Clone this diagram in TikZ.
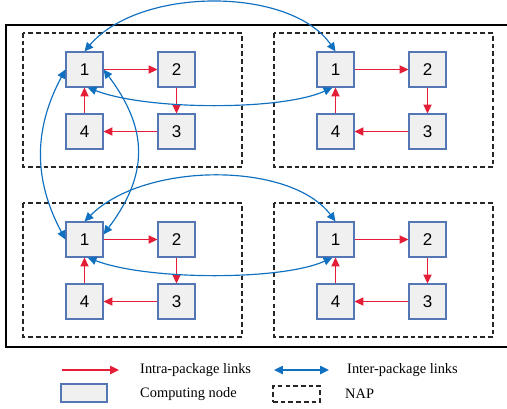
\documentclass[tikz,border=0pt]{standalone}
\usepackage{fontspec}
\setmainfont{Liberation Serif}
\newfontfamily\arialfont{Liberation Sans}
\usepackage{xcolor}
\usetikzlibrary{arrows.meta}

\definecolor{linkred}{RGB}{228,30,55}
\definecolor{linkblue}{RGB}{16,112,192}
\definecolor{nodeedge}{RGB}{84,118,180}
\definecolor{nodefill}{RGB}{240,240,240}

\begin{document}
\begin{tikzpicture}[x=0.03cm, y=0.03cm, node distance=2.76cm,
  comp/.style={rectangle, draw=nodeedge, line width=1pt, fill=nodefill, minimum width=1.11cm, minimum height=1.05cm, font=\arialfont\fontsize{14.5}{16}\selectfont},
  napbox/.style={draw=black!85, line width=1.1pt, dash pattern=on 4pt off 2.6pt},
  intra/.style={draw=linkred, line width=1pt, -{Triangle[length=7.5pt,width=7pt]}},
  inter/.style={draw=linkblue, line width=1pt, {Triangle[length=7.5pt,width=7pt]}-{Triangle[length=7.5pt,width=7pt]}},
  legend/.style={anchor=west, inner sep=0pt, font=\fontsize{12.3}{14}\selectfont}]
\useasboundingbox (0,0) rectangle (507,-408);
\draw[line width=2.5pt] (6,-25) rectangle (515,-347);
% NAP boxes
\draw[napbox] (23,-33) rectangle (242,-167);
\draw[napbox] (274,-33) rectangle (493,-167);
\draw[napbox] (23,-203) rectangle (242,-337);
\draw[napbox] (274,-203) rectangle (493,-337);
% top left
\node (TL1) [comp] at (84.5,-69.5) {1};
\node (TL2) [comp, right of=TL1] {2};
\node (TL3) [comp, below of=TL2, yshift=0.9cm] {3};
\node (TL4) [comp, left of=TL3] {4};
% top right
\node (TR1) [comp] at (335.5,-69.5) {1};
\node (TR2) [comp, right of=TR1] {2};
\node (TR3) [comp, below of=TR2, yshift=0.9cm] {3};
\node (TR4) [comp, left of=TR3] {4};
% bottom left
\node (BL1) [comp] at (84.5,-239.5) {1};
\node (BL2) [comp, right of=BL1] {2};
\node (BL3) [comp, below of=BL2, yshift=0.9cm] {3};
\node (BL4) [comp, left of=BL3] {4};
% bottom right
\node (BR1) [comp] at (335.5,-239.5) {1};
\node (BR2) [comp, right of=BR1] {2};
\node (BR3) [comp, below of=BR2, yshift=0.9cm] {3};
\node (BR4) [comp, left of=BR3] {4};
% intra-package links
\draw[intra] (TL1) -- (TL2);
\draw[intra] (TL2) -- (TL3);
\draw[intra] (TL3) -- (TL4);
\draw[intra] (TL4) -- (TL1);
\draw[intra] (TR1) -- (TR2);
\draw[intra] (TR2) -- (TR3);
\draw[intra] (TR3) -- (TR4);
\draw[intra] (TR4) -- (TR1);
\draw[intra] (BL1) -- (BL2);
\draw[intra] (BL2) -- (BL3);
\draw[intra] (BL3) -- (BL4);
\draw[intra] (BL4) -- (BL1);
\draw[intra] (BR1) -- (BR2);
\draw[intra] (BR2) -- (BR3);
\draw[intra] (BR3) -- (BR4);
\draw[intra] (BR4) -- (BR1);
% inter-package links
\draw[inter] (TL1.north) .. controls +(55,65) and +(-45,65) .. (TR1.north);
\draw[inter] (TL1.-80) .. controls +(60,-23) and +(-50,-23) .. (TR1.-100);
\draw[inter] (TL1.west) .. controls +(-32,-60) and +(-32,60) .. (BL1.west);
\draw[inter] (TL1.east) .. controls +(45,-60) and +(45,60) .. (BL1.15);
\draw[inter] (BL1.north) .. controls +(60,60) and +(-45,60) .. (BR1.north);
\draw[inter] (BL1.-80) .. controls +(60,-23) and +(-50,-23) .. (BR1.-100);
% legend
\coordinate (ra) at (62,-370);
\coordinate (rb) at (119,-370);
\draw[intra] (ra) -- (rb);
\node (intratxt) [legend] at (140,-370) {Intra-package links};
\coordinate (ba) at (274,-370);
\coordinate (bb) at (329,-370);
\draw[inter] (ba) -- (bb);
\node (intertxt) [legend] at (347,-370) {Inter-package links};
\node (lgcomp) [comp, minimum width=1.38cm, minimum height=0.54cm] at (84,-393) {};
\node (comptxt) [legend] at (140,-394) {Computing node};
\node (lgnap) [napbox, minimum width=1.41cm, minimum height=0.48cm] at (296.5,-394) {};
\node (naptxt) [legend] at (345,-394) {NAP};
\end{tikzpicture}
\end{document}
